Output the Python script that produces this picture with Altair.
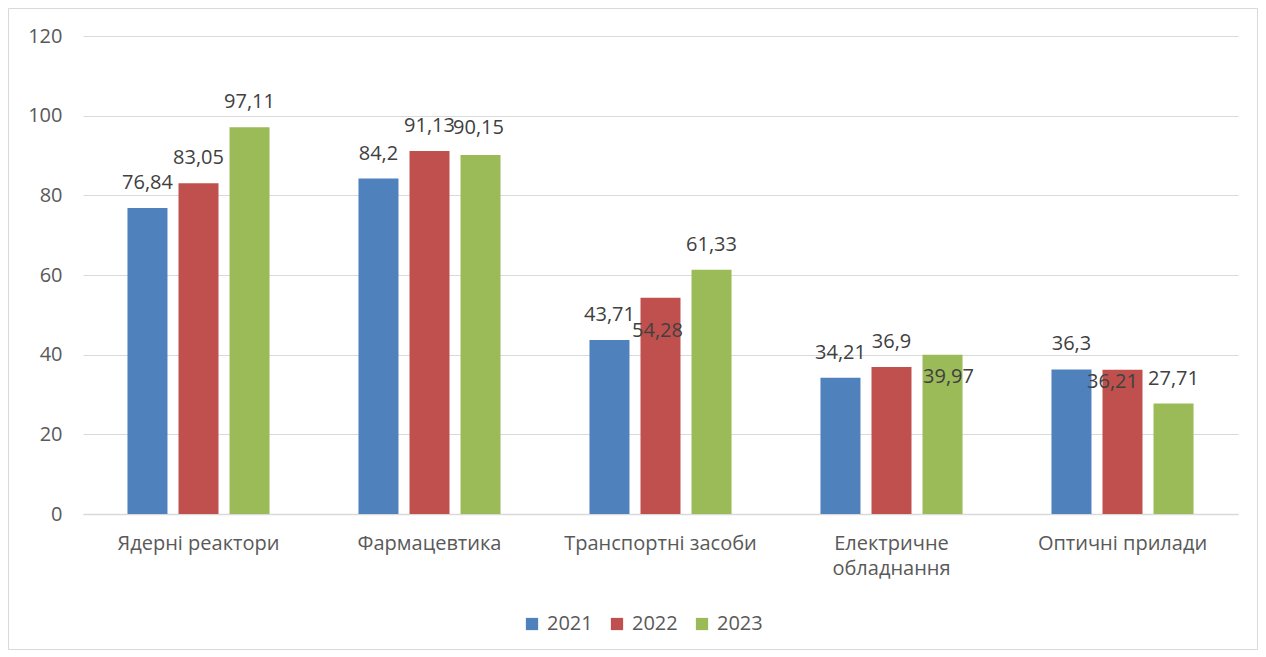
import altair as alt
import pandas as pd

categories = ["Ядерні реактори", "Фармацевтика", "Транспортні засоби",
              "Електричне обладнання", "Оптичні прилади"]
years = ["2021", "2022", "2023"]
v2021 = [76.84, 84.2, 43.71, 34.21, 36.3]
v2022 = [83.05, 91.13, 54.28, 36.9, 36.21]
v2023 = [97.11, 90.15, 61.33, 39.97, 27.71]
colors = ["#4f81bd", "#c0504d", "#9bbb59"]
y_ticks = [0, 20, 40, 60, 80, 100, 120]

# label nudges (Excel-style placement to avoid overlaps): (dx, dy)
nudges = {
    ("Транспортні засоби", "2022"): (-3, 33),
    ("Електричне обладнання", "2023"): (6, 22),
    ("Оптичні прилади", "2022"): (-10, 12),
    ("Фармацевтика", "2023"): (-2, -27),
}

rows = []
for yr, vals in zip(years, [v2021, v2022, v2023]):
    for c, v in zip(categories, vals):
        rows.append({"cat": c, "year": yr, "value": v,
                     "label": f"{v:g}".replace(".", ","),
                     "key": c + "|" + yr})
df = pd.DataFrame(rows)

W, H = 1155, 478
PL, PT, PR, PB = 75, 28, 20, 137
FONT = "Open Sans"
FS = 20

x_enc = alt.X("cat:N", sort=categories, title=None,
              scale=alt.Scale(paddingInner=0.385, paddingOuter=0.1925),
              axis=alt.Axis(labelAngle=0, labelFontSize=FS, labelColor="#595959",
                            labelFont=FONT, labelPadding=19, ticks=False,
                            domainColor="#d9d9d9", domainWidth=1.3,
                            labelLineHeight=25, labelLimit=0,
                            labelExpr="datum.value == 'Електричне обладнання' ? ['Електричне', 'обладнання'] : datum.value"))
xo_enc = alt.XOffset("year:N", sort=years,
                     scale=alt.Scale(paddingInner=0.216, paddingOuter=0))
y_enc = alt.Y("value:Q", title=None,
              scale=alt.Scale(domain=[0, 120], nice=False),
              axis=alt.Axis(values=y_ticks, labelFontSize=FS, labelColor="#595959",
                            labelFont=FONT, labelPadding=21, ticks=False, domain=False,
                            gridColor="#d9d9d9", gridWidth=1))

base = alt.Chart(df)

bars = base.mark_bar().encode(
    x=x_enc, xOffset=xo_enc, y=y_enc,
    color=alt.Color("year:N", sort=years,
                    scale=alt.Scale(domain=years, range=colors),
                    legend=alt.Legend(title=None, orient="none", direction="horizontal",
                                      legendX=439, legendY=578,
                                      symbolType="square", symbolSize=150,
                                      symbolStrokeWidth=0, labelFontSize=FS,
                                      labelFont=FONT, labelColor="#595959",
                                      columnPadding=14, symbolOffset=0,
                                      labelOffset=5))
)

nudged_keys = [c + "|" + y for (c, y) in nudges]
layers = [bars]
label_default = base.transform_filter(
    {"not": alt.FieldOneOfPredicate(field="key", oneOf=nudged_keys)}
).mark_text(dy=-25, baseline="middle", fontSize=FS, font=FONT, color="#404040").encode(
    x=alt.X("cat:N", sort=categories), xOffset=alt.XOffset("year:N", sort=years),
    y="value:Q", text="label:N")
layers.append(label_default)
for (c, yr), (dx, dy) in nudges.items():
    k = c + "|" + yr
    lay = base.transform_filter(alt.datum.key == k).mark_text(
        dx=dx, dy=dy, baseline="middle", fontSize=FS, font=FONT, color="#404040").encode(
        x=alt.X("cat:N", sort=categories), xOffset=alt.XOffset("year:N", sort=years),
        y="value:Q", text="label:N")
    layers.append(lay)

frame = alt.Chart(pd.DataFrame({"a": [0]})).mark_rect(
    fill=None, stroke="#d9d9d9", strokeWidth=1).encode(
    x=alt.value(-PL + 0.5), x2=alt.value(W + PR - 0.5),
    y=alt.value(-PT + 0.5), y2=alt.value(H + PB - 1.5))

chart = alt.layer(frame, *layers).properties(
    width=W, height=H,
    autosize=alt.AutoSizeParams(type="none"),
    padding={"left": PL, "top": PT, "right": PR, "bottom": PB},
    background="white",
).configure_view(stroke=None)

chart.save("out.html", embed_options={"renderer": "svg", "actions": False})
